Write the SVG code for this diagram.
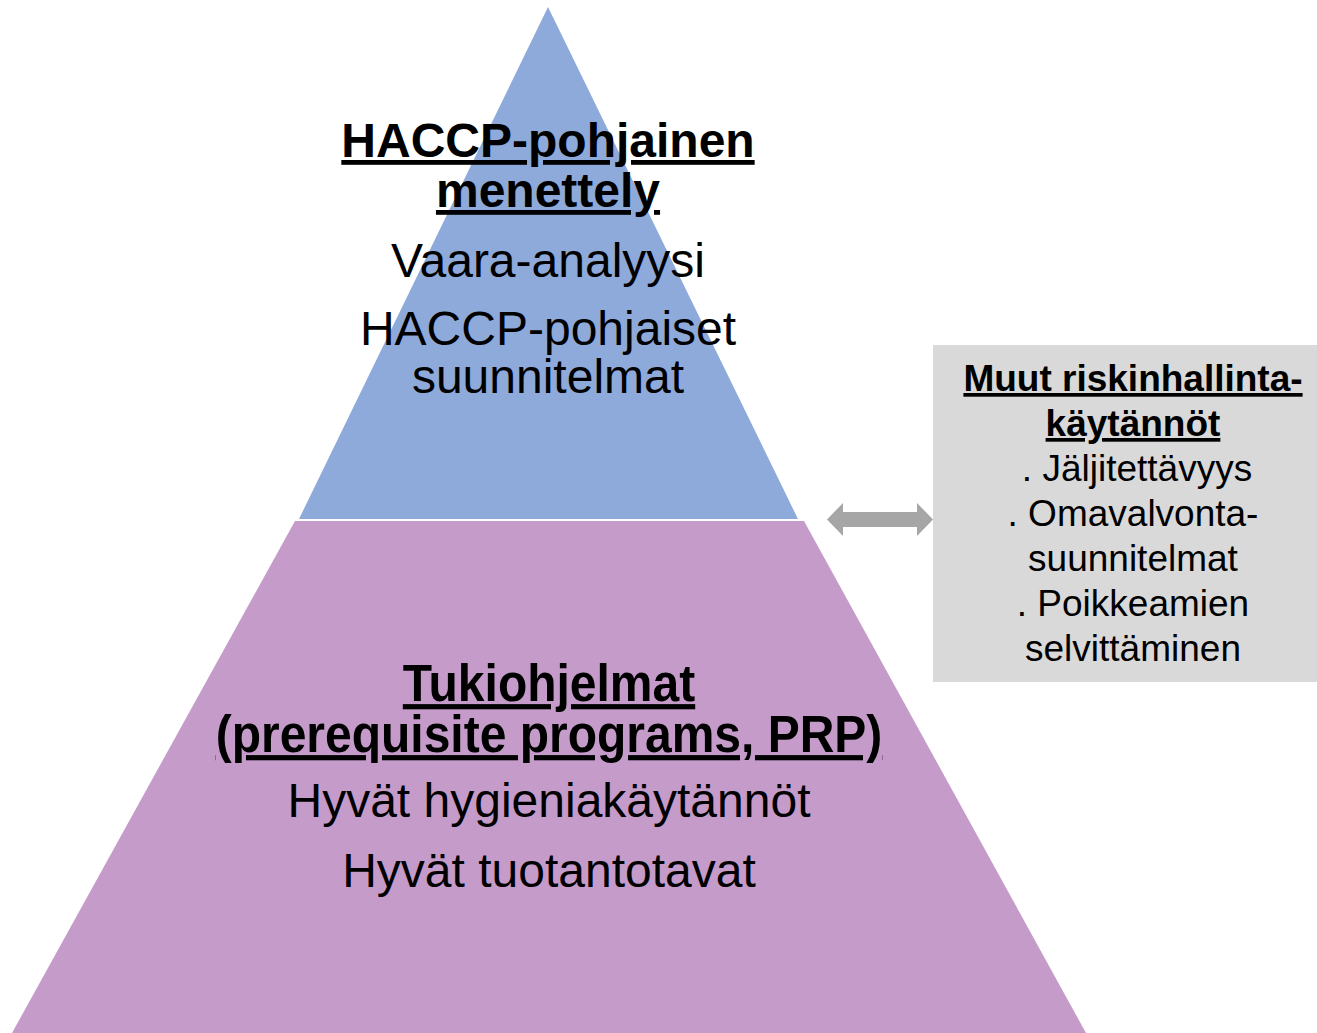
<svg xmlns="http://www.w3.org/2000/svg" width="1317" height="1033" viewBox="0 0 1317 1033">
<style>
.t{font-family:"Liberation Sans",Arial,sans-serif;fill:#000;text-anchor:middle}
.b{font-weight:bold;text-decoration:underline}
.m{font-size:48px}
.s{font-size:37px}
</style>
<rect width="1317" height="1033" fill="#fff"/>
<g id="top-tier">
<polygon points="548,7 299,519 798,519" fill="#8eaadb"/>
<text class="t m b" x="548" y="157">HACCP-pohjainen</text>
<text class="t m b" x="548" y="207">menettely</text>
<text class="t m" x="548" y="277">Vaara-analyysi</text>
<text class="t m" x="548" y="345">HACCP-pohjaiset</text>
<text class="t m" x="548" y="393">suunnitelmat</text>
</g>
<g id="bottom-tier">
<polygon points="295,521 804,521 1086,1033 12,1033" fill="#c59bca"/>
<g transform="translate(549,701) scale(1,1.08)"><text class="t m b" x="0" y="0">Tukiohjelmat</text></g>
<g transform="translate(549,752) scale(1,1.08)"><text class="t m b" x="0" y="0">(prerequisite programs, PRP)</text></g>
<text class="t m" x="549" y="817">Hyvät hygieniakäytännöt</text>
<text class="t m" x="549" y="887">Hyvät tuotantotavat</text>
</g>
<g id="other-practices">
<rect x="933" y="345" width="384" height="337" fill="#d9d9d9"/>
<text class="t s b" x="1133" y="391">Muut riskinhallinta-</text>
<text class="t s b" x="1133" y="436">käytännöt</text>
<text class="t s" x="1137" y="481">. Jäljitettävyys</text>
<text class="t s" x="1133" y="526">. Omavalvonta-</text>
<text class="t s" x="1133" y="571">suunnitelmat</text>
<text class="t s" x="1133" y="616">. Poikkeamien</text>
<text class="t s" x="1133" y="661">selvittäminen</text>
</g>
<g id="connectors">
<polygon points="827,519.5 843,503 843,512 917,512 917,503 933,519.5 917,536 917,527 843,527 843,536" fill="#a6a6a6"/>
</g>
</svg>
